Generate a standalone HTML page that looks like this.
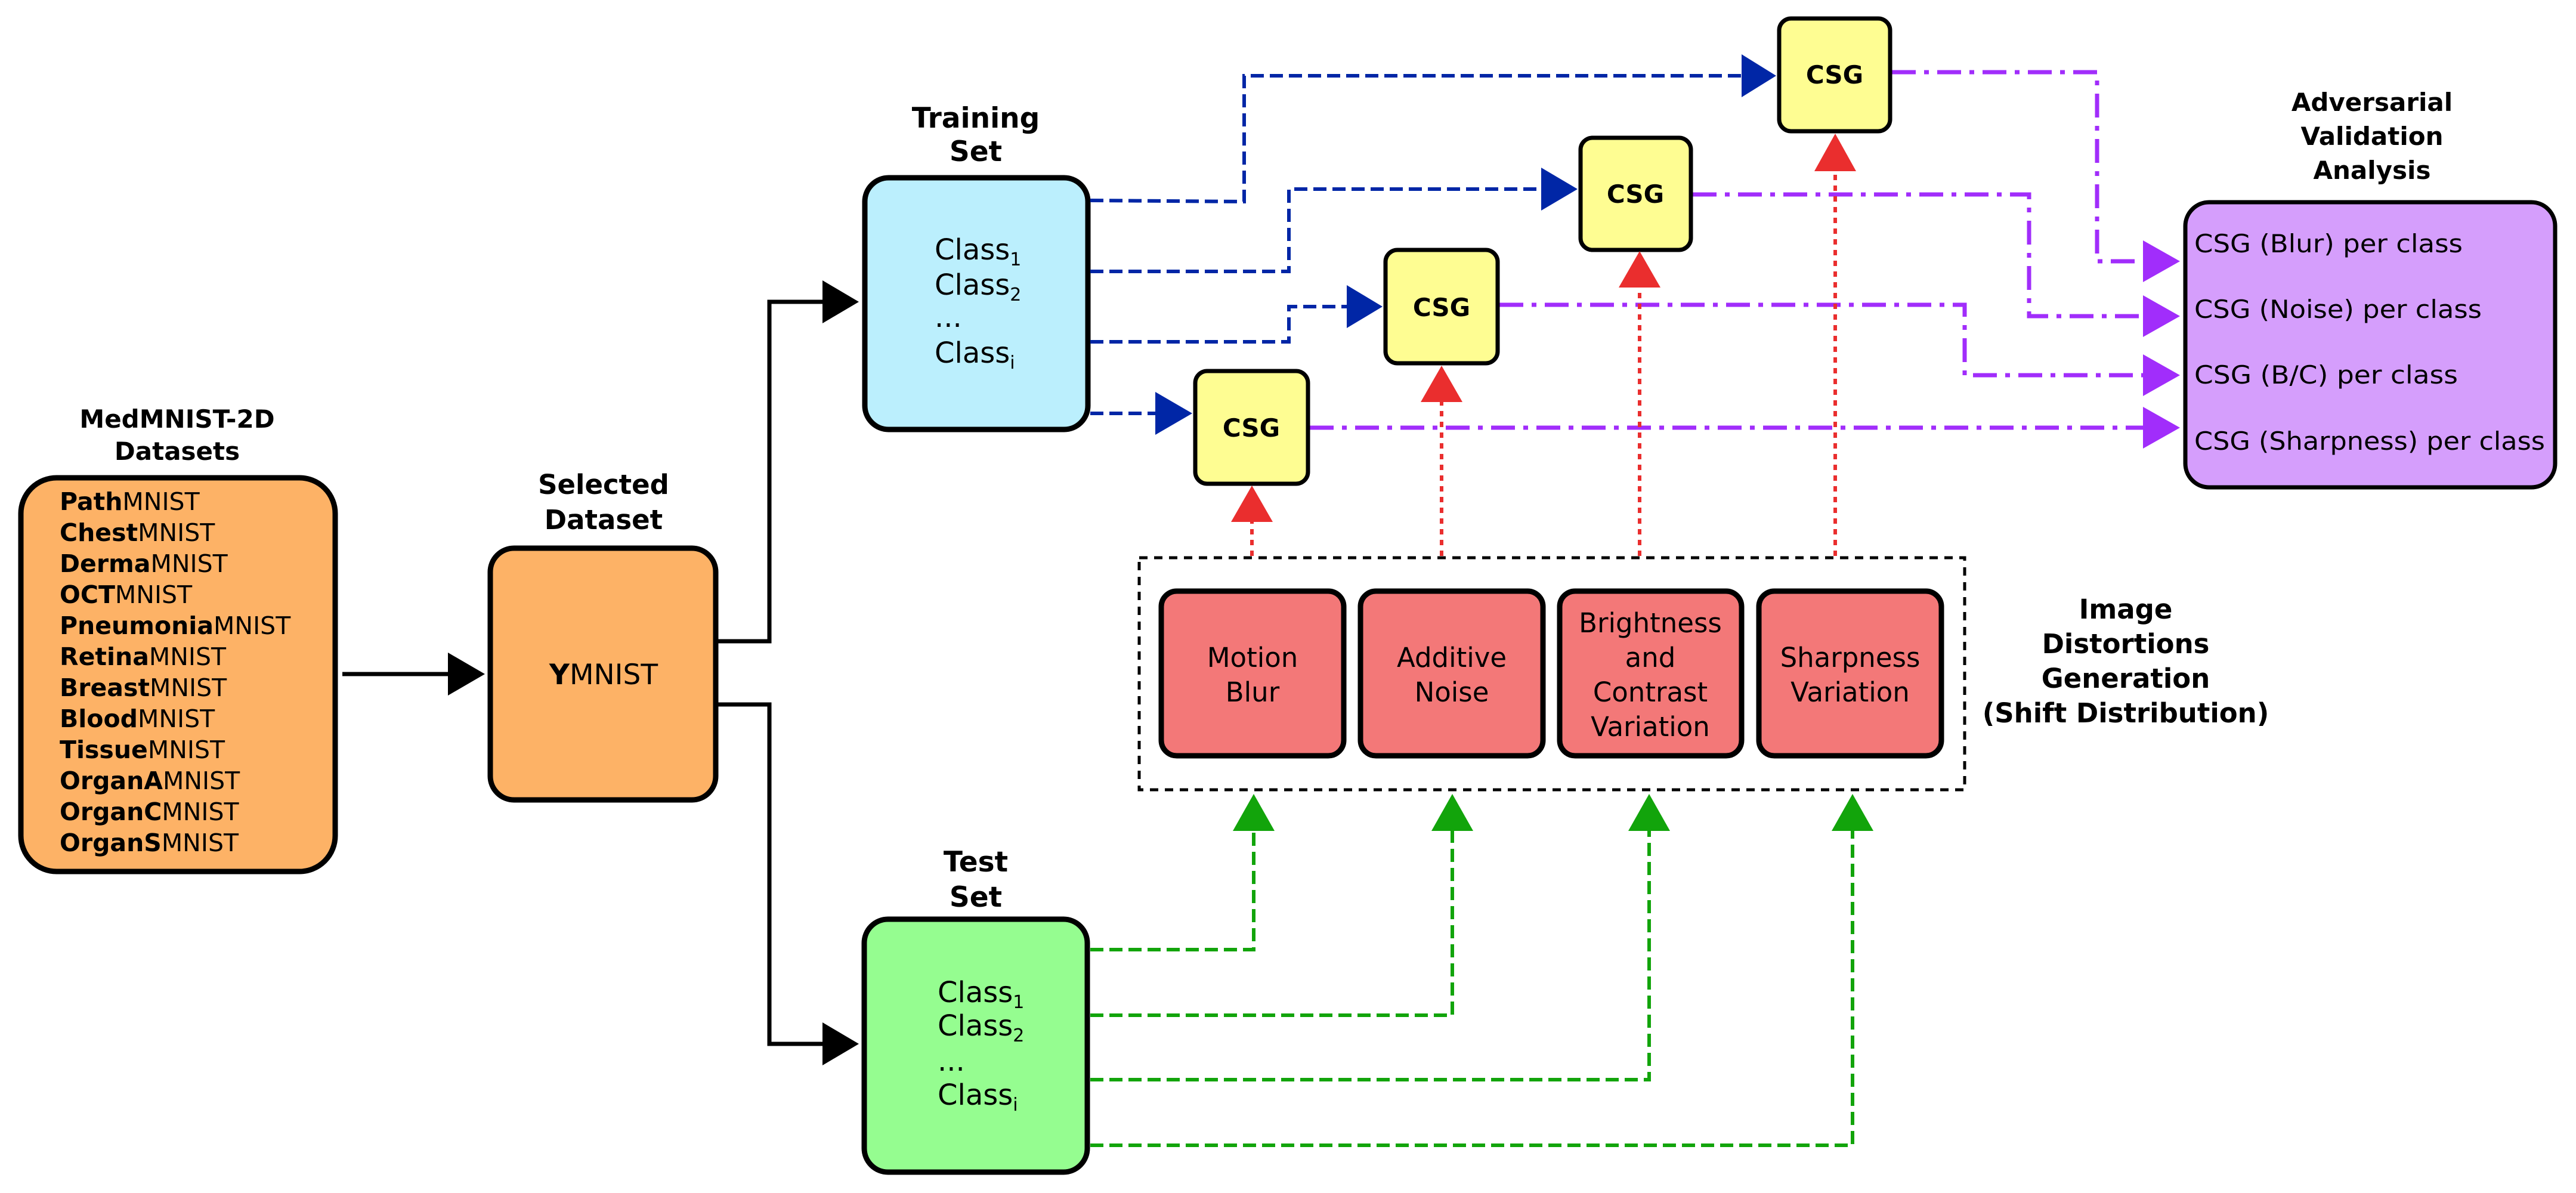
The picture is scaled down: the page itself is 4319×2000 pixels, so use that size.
<!DOCTYPE html>
<html><head><meta charset="utf-8"><style>
html,body{margin:0;padding:0;background:#fff}
svg{display:block}
text{font-family:"DejaVu Sans","Liberation Sans",sans-serif}
.b{font-weight:bold}
</style></head><body>
<svg width="4319" height="2000" viewBox="0 0 4319 2000" xmlns="http://www.w3.org/2000/svg">
<!-- MedMNIST -->
<text x="297" y="717" font-size="42" class="b" text-anchor="middle">MedMNIST-2D</text>
<text x="297" y="771" font-size="42" class="b" text-anchor="middle">Datasets</text>
<rect x="35" y="801" width="527" height="660" rx="60" fill="#fdb266" stroke="#000" stroke-width="9"/>
<g font-size="41">
<text x="100" y="855"><tspan class="b">Path</tspan>MNIST</text>
<text x="100" y="907"><tspan class="b">Chest</tspan>MNIST</text>
<text x="100" y="959"><tspan class="b">Derma</tspan>MNIST</text>
<text x="100" y="1011"><tspan class="b">OCT</tspan>MNIST</text>
<text x="100" y="1063"><tspan class="b">Pneumonia</tspan>MNIST</text>
<text x="100" y="1115"><tspan class="b">Retina</tspan>MNIST</text>
<text x="100" y="1167"><tspan class="b">Breast</tspan>MNIST</text>
<text x="100" y="1219"><tspan class="b">Blood</tspan>MNIST</text>
<text x="100" y="1271"><tspan class="b">Tissue</tspan>MNIST</text>
<text x="100" y="1323"><tspan class="b">OrganA</tspan>MNIST</text>
<text x="100" y="1375"><tspan class="b">OrganC</tspan>MNIST</text>
<text x="100" y="1427"><tspan class="b">OrganS</tspan>MNIST</text>
</g>
<!-- arrow to selected -->
<line x1="574" y1="1130" x2="755" y2="1130" stroke="#000" stroke-width="7"/>
<polygon points="751,1094 813,1130 751,1166" fill="#000"/>
<!-- Selected -->
<text x="1012" y="828" font-size="45" class="b" text-anchor="middle">Selected</text>
<text x="1012" y="887" font-size="45" class="b" text-anchor="middle">Dataset</text>
<rect x="822" y="919" width="378" height="422" rx="40" fill="#fdb266" stroke="#000" stroke-width="9"/>
<text x="1012" y="1147" font-size="47" text-anchor="middle"><tspan class="b">Y</tspan>MNIST</text>
<!-- split lines -->
<polyline points="1204,1075 1290,1075 1290,506 1385,506" fill="none" stroke="#000" stroke-width="7"/>
<polygon points="1379,470 1440,506 1379,542" fill="#000"/>
<polyline points="1204,1181 1290,1181 1290,1750 1385,1750" fill="none" stroke="#000" stroke-width="7"/>
<polygon points="1379,1714 1440,1750 1379,1786" fill="#000"/>
<!-- Training -->
<text x="1636" y="214" font-size="47" class="b" text-anchor="middle">Training</text>
<text x="1636" y="270" font-size="47" class="b" text-anchor="middle">Set</text>
<rect x="1450" y="298" width="374" height="422" rx="40" fill="#bbeffd" stroke="#000" stroke-width="9"/>
<g font-size="48">
<text x="1567" y="435">Class<tspan font-size="30" dy="10">1</tspan></text>
<text x="1567" y="494">Class<tspan font-size="30" dy="10">2</tspan></text>
<text x="1567" y="548">...</text>
<text x="1567" y="608">Class<tspan font-size="30" dy="10">i</tspan></text>
</g>
<!-- Test -->
<text x="1636" y="1461" font-size="47" class="b" text-anchor="middle">Test</text>
<text x="1636" y="1520" font-size="47" class="b" text-anchor="middle">Set</text>
<rect x="1449" y="1541" width="374" height="424" rx="40" fill="#95fd90" stroke="#000" stroke-width="9"/>
<g font-size="48">
<text x="1572" y="1680">Class<tspan font-size="30" dy="10">1</tspan></text>
<text x="1572" y="1736">Class<tspan font-size="30" dy="10">2</tspan></text>
<text x="1572" y="1795">...</text>
<text x="1572" y="1852">Class<tspan font-size="30" dy="10">i</tspan></text>
</g>
<!-- blue dashed -->
<g fill="none" stroke="#0026a6" stroke-width="6" stroke-dasharray="22,10">
<polyline points="1828,336 2086,338 2086,127 2925,127"/>
<polyline points="1828,455 2161,455 2161,317 2590,317"/>
<polyline points="1828,573 2161,573 2161,514 2262,514"/>
<polyline points="1828,693 1940,693"/>
</g>
<g fill="#0026a6">
<polygon points="2920,91 2978,127 2920,163"/>
<polygon points="2584,281 2645,317 2584,353"/>
<polygon points="2258,478 2318,514 2258,550"/>
<polygon points="1937,657 1999,693 1937,729"/>
</g>
<!-- purple dash-dot -->
<g fill="none" stroke="#a12dfb" stroke-width="7" stroke-dasharray="40,14,8,14">
<polyline points="3172,121 3516,121 3516,438 3595,438"/>
<polyline points="2838,326 3402,326 3402,530 3595,530"/>
<polyline points="2514,511 3294,511 3294,629 3595,629"/>
<polyline points="2196,717 3595,717"/>
</g>
<g fill="#a12dfb">
<polygon points="3593,403 3655,438 3593,473"/>
<polygon points="3593,495 3655,530 3593,565"/>
<polygon points="3593,594 3655,629 3593,664"/>
<polygon points="3593,682 3655,717 3593,752"/>
</g>
<!-- CSG boxes -->
<g fill="#fefd92" stroke="#000" stroke-width="7">
<rect x="2004" y="622" width="189" height="189" rx="20"/>
<rect x="2323" y="419" width="188" height="190" rx="20"/>
<rect x="2650" y="231" width="185" height="188" rx="20"/>
<rect x="2983" y="31" width="186" height="189" rx="20"/>
</g>
<g font-size="42" class="b" text-anchor="middle">
<text x="2098" y="732">CSG</text>
<text x="2417" y="530">CSG</text>
<text x="2742" y="340">CSG</text>
<text x="3076" y="140">CSG</text>
</g>
<!-- Adversarial -->
<g font-size="42" class="b" text-anchor="middle">
<text x="3977" y="186">Adversarial</text>
<text x="3977" y="243">Validation</text>
<text x="3977" y="300">Analysis</text>
</g>
<rect x="3664" y="339" width="620" height="478" rx="40" fill="#d59efc" stroke="#000" stroke-width="7"/>
<g font-size="42">
<text x="3679" y="423" textLength="450" lengthAdjust="spacingAndGlyphs">CSG (Blur) per class</text>
<text x="3679" y="533" textLength="482" lengthAdjust="spacingAndGlyphs">CSG (Noise) per class</text>
<text x="3679" y="643" textLength="442" lengthAdjust="spacingAndGlyphs">CSG (B/C) per class</text>
<text x="3679" y="754" textLength="588" lengthAdjust="spacingAndGlyphs">CSG (Sharpness) per class</text>
</g>
<!-- red dotted -->
<g fill="none" stroke="#ea2e2e" stroke-width="6" stroke-dasharray="9,9">
<line x1="2099" y1="932" x2="2099" y2="870"/>
<line x1="2417" y1="932" x2="2417" y2="670"/>
<line x1="2749" y1="932" x2="2749" y2="478"/>
<line x1="3077" y1="932" x2="3077" y2="283"/>
</g>
<g fill="#ea2e2e">
<polygon points="2064,875 2099,814 2134,875"/>
<polygon points="2382,674 2417,613 2452,674"/>
<polygon points="2714,482 2749,421 2784,482"/>
<polygon points="3042,287 3077,224 3112,287"/>
</g>
<!-- dashed box -->
<rect x="1910" y="935" width="1384" height="389" fill="none" stroke="#000" stroke-width="5" stroke-dasharray="14,11"/>
<g fill="#f37878" stroke="#000" stroke-width="9">
<rect x="1947" y="991" width="306" height="276" rx="26"/>
<rect x="2281" y="991" width="306" height="276" rx="26"/>
<rect x="2615" y="991" width="305" height="276" rx="26"/>
<rect x="2949" y="991" width="306" height="276" rx="26"/>
</g>
<g font-size="45" text-anchor="middle">
<text x="2100" y="1118">Motion</text>
<text x="2100" y="1176">Blur</text>
<text x="2434" y="1118">Additive</text>
<text x="2434" y="1176">Noise</text>
<text x="2767" y="1060">Brightness</text>
<text x="2767" y="1118">and</text>
<text x="2767" y="1176">Contrast</text>
<text x="2767" y="1234">Variation</text>
<text x="3102" y="1118">Sharpness</text>
<text x="3102" y="1176">Variation</text>
</g>
<g font-size="45" class="b" text-anchor="middle">
<text x="3564" y="1037">Image</text>
<text x="3564" y="1095">Distortions</text>
<text x="3564" y="1153">Generation</text>
<text x="3564" y="1211">(Shift Distribution)</text>
</g>
<!-- green dashed -->
<g fill="none" stroke="#12a40b" stroke-width="6" stroke-dasharray="22,10">
<polyline points="1828,1592 2102,1592 2102,1393"/>
<polyline points="1828,1702 2435,1702 2435,1393"/>
<polyline points="1828,1810 2765,1810 2765,1393"/>
<polyline points="1828,1920 3106,1920 3106,1393"/>
</g>
<g fill="#12a40b">
<polygon points="2067,1393 2102,1331 2137,1393"/>
<polygon points="2400,1393 2435,1331 2470,1393"/>
<polygon points="2730,1393 2765,1331 2800,1393"/>
<polygon points="3071,1393 3106,1331 3141,1393"/>
</g>
</svg>
</body></html>
